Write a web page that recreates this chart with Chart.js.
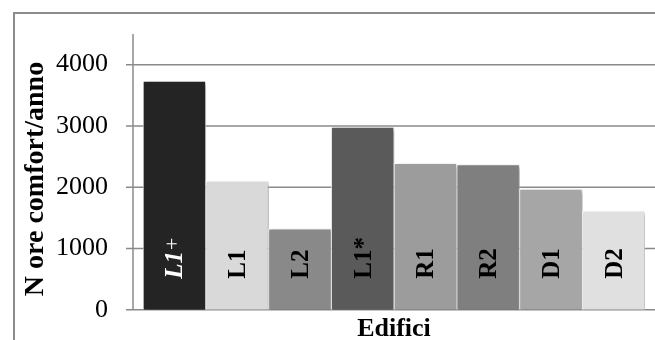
<!DOCTYPE html>
<html>
<head>
<meta charset="utf-8">
<script src="https://cdn.jsdelivr.net/npm/chart.js@4.4.1/dist/chart.umd.min.js"></script>
<style>
body { margin: 0; background: #fff; }
#wrap { position: relative; width: 655px; height: 340px; overflow: hidden; }
#frame { position: absolute; left: 13px; top: 12px; width: 700px; height: 400px;
         border-left: 2px solid #8c8c8c; border-top: 2px solid #8c8c8c; }
canvas { position: absolute; left: 0; top: 0; }
</style>
</head>
<body>
<div id="wrap">
  <div id="frame"></div>
  <canvas id="myChart" width="655" height="340"></canvas>
</div>
<script>
// dati
var edifici = ['L1+', 'L1', 'L2', 'L1*', 'R1', 'R2', 'D1', 'D2'];
var oreComfort = [3730, 2100, 1320, 2980, 2390, 2370, 1970, 1610];
var tickValori = [0, 1000, 2000, 3000, 4000];

var colori = ['#242424', '#d9d9d9', '#898989', '#5a5a5a', '#9c9c9c', '#7f7f7f', '#a6a6a6', '#e0e0e0'];
var serif = "'Liberation Serif', 'Times New Roman', serif";

var grafico = {
    id: 'grafico',
    beforeDatasetsDraw: function (chart) {
        var ctx = chart.ctx, y = chart.scales.y, area = chart.chartArea;
        ctx.save();
        ctx.strokeStyle = '#8a8a8a';
        ctx.lineWidth = 1.5;
        tickValori.forEach(function (v) {
            var py = y.getPixelForValue(v);
            ctx.beginPath();
            ctx.moveTo(area.left - 17, py);
            ctx.lineTo(chart.width, py);
            ctx.stroke();
        });
        ctx.beginPath();
        ctx.moveTo(area.left - 10, area.top);
        ctx.lineTo(area.left - 10, y.getPixelForValue(0));
        ctx.stroke();
        ctx.restore();
        // ombra delle barre
        ctx.save();
        ctx.shadowColor = 'rgba(0,0,0,0.35)';
        ctx.shadowBlur = 4;
        ctx.shadowOffsetX = 2;
        ctx.shadowOffsetY = 2;
    },
    afterDatasetsDraw: function (chart) {
        var ctx = chart.ctx;
        ctx.restore();
        var meta = chart.getDatasetMeta(0);
        var base = chart.scales.y.getPixelForValue(0) - 31;
        meta.data.forEach(function (bar, i) {
            var nome = edifici[i];
            ctx.save();
            ctx.translate(bar.x + 8, base);
            ctx.rotate(-Math.PI / 2);
            ctx.textAlign = 'left';
            ctx.textBaseline = 'alphabetic';
            if (i === 0) {
                ctx.fillStyle = '#ffffff';
                ctx.font = 'italic bold 25px ' + serif;
                var main = nome.slice(0, 2);
                ctx.fillText(main, 0, 0);
                var w = ctx.measureText(main).width;
                ctx.font = '22px ' + serif;
                ctx.fillText(nome.slice(2), w + 1, -3);
            } else {
                ctx.fillStyle = '#000000';
                ctx.font = 'bold 25px ' + serif;
                ctx.fillText(nome, 0, 0);
            }
            ctx.restore();
        });
    },
    afterDraw: function (chart) {
        var ctx = chart.ctx;
        ctx.save();
        ctx.translate(43, 179);
        ctx.rotate(-Math.PI / 2);
        ctx.fillStyle = '#000';
        ctx.font = 'bold 28px ' + serif;
        ctx.textAlign = 'center';
        ctx.textBaseline = 'alphabetic';
        ctx.fillText('N ore comfort/anno', 0, 0);
        ctx.restore();
    }
};

var ctx = document.getElementById('myChart').getContext('2d');
var chart = new Chart(ctx, {
    type: 'bar',
    data: {
        labels: edifici,
        datasets: [{
            data: oreComfort,
            backgroundColor: colori,
            borderColor: 'rgba(255,255,255,0.75)',
            borderWidth: 1,
            barPercentage: 1,
            categoryPercentage: 1
        }]
    },
    options: {
        responsive: false,
        animation: false,
        layout: { padding: { left: 0, right: 10, top: 34, bottom: 0 } },
        plugins: { legend: { display: false }, tooltip: { enabled: false } },
        scales: {
            x: {
                grid: { display: false, drawTicks: false },
                border: { display: false },
                ticks: { display: false },
                title: {
                    display: true,
                    text: 'Edifici',
                    color: '#000',
                    font: { family: serif, size: 26, weight: 'bold', lineHeight: 0.8 },
                    padding: { top: 9, bottom: 0.5 }
                }
            },
            y: {
                min: 0,
                max: 4500,
                afterBuildTicks: function (scale) {
                    scale.ticks = tickValori.map(function (v) { return { value: v }; });
                },
                afterFit: function (scale) {
                    scale.width = 143;
                    scale.paddingTop = 0;
                    scale.paddingBottom = 0;
                },
                grid: { display: false, drawTicks: false },
                border: { display: false },
                ticks: {
                    color: '#000',
                    font: { family: serif, size: 26 },
                    padding: 35,
                    callback: function (v) { return String(v); }
                }
            }
        }
    },
    plugins: [grafico]
});
</script>
</body>
</html>
